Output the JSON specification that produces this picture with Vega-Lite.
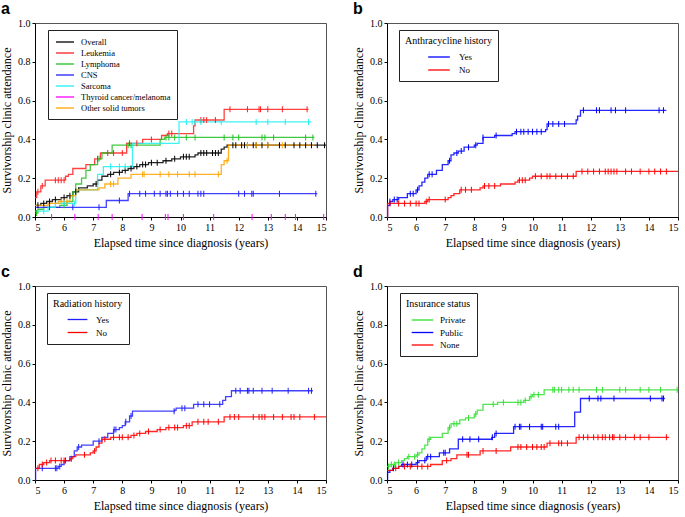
{
  "$schema": "https://vega.github.io/schema/vega-lite/v6.json",
  "background": "white",
  "padding": {"left": 0, "top": 0, "right": 2, "bottom": 2},
  "config": {
    "font": "Liberation Serif, Times New Roman, serif",
    "view": {"stroke": "#555555", "strokeWidth": 1},
    "axis": {"labelFont": "Liberation Serif, Times New Roman, serif", "labelFontSize": 10, "titleFont": "Liberation Serif, Times New Roman, serif", "titleFontSize": 12, "titleFontWeight": "normal", "grid": false, "domainColor": "#000", "tickColor": "#000", "labelColor": "#000", "titleColor": "#000", "tickSize": 3},
    "legend": {"orient": "none", "legendX": 13, "legendY": 7, "strokeColor": "#222", "strokeWidth": 1, "fillColor": "white", "padding": 6, "labelFont": "Liberation Serif, Times New Roman, serif", "labelFontSize": 9, "titleFont": "Liberation Serif, Times New Roman, serif", "titleFontSize": 10, "titleFontWeight": "normal", "titleColor": "#000", "labelColor": "#000", "titlePadding": 4, "symbolType": "M-1.8,0H1.8", "symbolStrokeWidth": 1.5, "symbolSize": 144, "labelLimit": 300, "rowPadding": 0.5},
    "title": {"anchor": "start", "frame": "group", "font": "Liberation Sans, Arial, sans-serif", "fontSize": 16, "fontWeight": "bold", "dx": -34, "offset": 1, "color": "#000"},
    "tick": {"orient": "vertical", "size": 6, "thickness": 1, "opacity": 1},
    "line": {"strokeWidth": 1.3, "opacity": 0.85}
  },
  "spacing": 14,
  "resolve": {"scale": {"color": "independent"}, "legend": {"color": "independent"}},
  "vconcat": [
    {
      "spacing": 22,
      "resolve": {"scale": {"color": "independent"}, "legend": {"color": "independent"}},
      "hconcat": [
        {
          "width": 291, "height": 194,
          "title": "a",
          "data": {"values": [
            {"s":"Overall","x":5,"y":0.06,"c":0},{"s":"Overall","x":5.2,"y":0.07,"c":0},{"s":"Overall","x":5.4,"y":0.08,"c":0},{"s":"Overall","x":5.6,"y":0.09,"c":0},{"s":"Overall","x":5.9,"y":0.1,"c":0},{"s":"Overall","x":6.1,"y":0.11,"c":0},{"s":"Overall","x":6.3,"y":0.13,"c":0},{"s":"Overall","x":6.5,"y":0.15,"c":0},{"s":"Overall","x":6.8,"y":0.16,"c":0},{"s":"Overall","x":7.0,"y":0.17,"c":0},{"s":"Overall","x":7.15,"y":0.19,"c":0},{"s":"Overall","x":7.3,"y":0.21,"c":0},{"s":"Overall","x":7.5,"y":0.22,"c":0},{"s":"Overall","x":7.7,"y":0.23,"c":0},{"s":"Overall","x":8.0,"y":0.24,"c":0},{"s":"Overall","x":8.2,"y":0.25,"c":0},{"s":"Overall","x":8.4,"y":0.26,"c":0},{"s":"Overall","x":8.6,"y":0.27,"c":0},{"s":"Overall","x":8.9,"y":0.28,"c":0},{"s":"Overall","x":9.4,"y":0.29,"c":0},{"s":"Overall","x":9.7,"y":0.3,"c":0},{"s":"Overall","x":10.0,"y":0.31,"c":0},{"s":"Overall","x":10.5,"y":0.32,"c":0},{"s":"Overall","x":10.6,"y":0.33,"c":0},{"s":"Overall","x":11.4,"y":0.35,"c":0},{"s":"Overall","x":11.5,"y":0.36,"c":0},{"s":"Overall","x":11.6,"y":0.37,"c":0},{"s":"Overall","x":15.0,"y":0.37,"c":0},
            {"s":"Overall","x":5.1,"y":0.06,"c":1},{"s":"Overall","x":5.3,"y":0.07,"c":1},{"s":"Overall","x":5.5,"y":0.08,"c":1},{"s":"Overall","x":5.7,"y":0.09,"c":1},{"s":"Overall","x":6.0,"y":0.1,"c":1},{"s":"Overall","x":6.2,"y":0.11,"c":1},{"s":"Overall","x":6.4,"y":0.13,"c":1},{"s":"Overall","x":7.1,"y":0.17,"c":1},{"s":"Overall","x":7.6,"y":0.22,"c":1},{"s":"Overall","x":7.9,"y":0.23,"c":1},{"s":"Overall","x":8.1,"y":0.24,"c":1},{"s":"Overall","x":8.3,"y":0.25,"c":1},{"s":"Overall","x":8.5,"y":0.26,"c":1},{"s":"Overall","x":8.7,"y":0.27,"c":1},{"s":"Overall","x":8.8,"y":0.27,"c":1},{"s":"Overall","x":9.0,"y":0.28,"c":1},{"s":"Overall","x":9.2,"y":0.28,"c":1},{"s":"Overall","x":9.5,"y":0.29,"c":1},{"s":"Overall","x":9.8,"y":0.3,"c":1},{"s":"Overall","x":10.1,"y":0.31,"c":1},{"s":"Overall","x":10.2,"y":0.31,"c":1},{"s":"Overall","x":10.3,"y":0.31,"c":1},{"s":"Overall","x":10.7,"y":0.33,"c":1},{"s":"Overall","x":10.8,"y":0.33,"c":1},{"s":"Overall","x":10.9,"y":0.33,"c":1},{"s":"Overall","x":11.1,"y":0.33,"c":1},{"s":"Overall","x":11.2,"y":0.33,"c":1},{"s":"Overall","x":11.3,"y":0.33,"c":1},{"s":"Overall","x":11.8,"y":0.37,"c":1},{"s":"Overall","x":11.9,"y":0.37,"c":1},{"s":"Overall","x":12.1,"y":0.37,"c":1},{"s":"Overall","x":12.2,"y":0.37,"c":1},{"s":"Overall","x":12.3,"y":0.37,"c":1},{"s":"Overall","x":12.5,"y":0.37,"c":1},{"s":"Overall","x":12.6,"y":0.37,"c":1},{"s":"Overall","x":12.8,"y":0.37,"c":1},{"s":"Overall","x":13.0,"y":0.37,"c":1},{"s":"Overall","x":13.4,"y":0.37,"c":1},{"s":"Overall","x":13.6,"y":0.37,"c":1},{"s":"Overall","x":13.9,"y":0.37,"c":1},{"s":"Overall","x":14.1,"y":0.37,"c":1},{"s":"Overall","x":14.3,"y":0.37,"c":1},{"s":"Overall","x":14.5,"y":0.37,"c":1},{"s":"Overall","x":14.7,"y":0.37,"c":1},{"s":"Overall","x":14.95,"y":0.37,"c":1},
            {"s":"Leukemia","x":5,"y":0.1,"c":0},{"s":"Leukemia","x":5.06,"y":0.13,"c":0},{"s":"Leukemia","x":5.2,"y":0.16,"c":0},{"s":"Leukemia","x":5.35,"y":0.19,"c":0},{"s":"Leukemia","x":6.05,"y":0.21,"c":0},{"s":"Leukemia","x":6.15,"y":0.22,"c":0},{"s":"Leukemia","x":6.3,"y":0.25,"c":0},{"s":"Leukemia","x":6.75,"y":0.27,"c":0},{"s":"Leukemia","x":7.05,"y":0.3,"c":0},{"s":"Leukemia","x":7.25,"y":0.33,"c":0},{"s":"Leukemia","x":8.15,"y":0.38,"c":0},{"s":"Leukemia","x":8.7,"y":0.4,"c":0},{"s":"Leukemia","x":9.35,"y":0.42,"c":0},{"s":"Leukemia","x":9.55,"y":0.43,"c":0},{"s":"Leukemia","x":10.45,"y":0.47,"c":0},{"s":"Leukemia","x":10.5,"y":0.5,"c":0},{"s":"Leukemia","x":11.5,"y":0.555,"c":0},{"s":"Leukemia","x":14.4,"y":0.555,"c":0},
            {"s":"Leukemia","x":5.1,"y":0.13,"c":1},{"s":"Leukemia","x":5.25,"y":0.16,"c":1},{"s":"Leukemia","x":5.7,"y":0.19,"c":1},{"s":"Leukemia","x":5.8,"y":0.19,"c":1},{"s":"Leukemia","x":5.9,"y":0.19,"c":1},{"s":"Leukemia","x":6.0,"y":0.19,"c":1},{"s":"Leukemia","x":7.15,"y":0.3,"c":1},{"s":"Leukemia","x":7.5,"y":0.33,"c":1},{"s":"Leukemia","x":7.7,"y":0.33,"c":1},{"s":"Leukemia","x":8.0,"y":0.33,"c":1},{"s":"Leukemia","x":8.25,"y":0.38,"c":1},{"s":"Leukemia","x":8.5,"y":0.38,"c":1},{"s":"Leukemia","x":9.0,"y":0.4,"c":1},{"s":"Leukemia","x":9.6,"y":0.43,"c":1},{"s":"Leukemia","x":9.7,"y":0.43,"c":1},{"s":"Leukemia","x":10.7,"y":0.5,"c":1},{"s":"Leukemia","x":10.8,"y":0.5,"c":1},{"s":"Leukemia","x":10.9,"y":0.5,"c":1},{"s":"Leukemia","x":11.2,"y":0.5,"c":1},{"s":"Leukemia","x":11.7,"y":0.555,"c":1},{"s":"Leukemia","x":12.3,"y":0.555,"c":1},{"s":"Leukemia","x":12.7,"y":0.555,"c":1},{"s":"Leukemia","x":12.75,"y":0.555,"c":1},{"s":"Leukemia","x":13.0,"y":0.555,"c":1},{"s":"Leukemia","x":13.5,"y":0.555,"c":1},{"s":"Leukemia","x":14.35,"y":0.555,"c":1},
            {"s":"Lymphoma","x":5,"y":0.02,"c":0},{"s":"Lymphoma","x":5.1,"y":0.04,"c":0},{"s":"Lymphoma","x":5.3,"y":0.05,"c":0},{"s":"Lymphoma","x":5.85,"y":0.06,"c":0},{"s":"Lymphoma","x":6.1,"y":0.08,"c":0},{"s":"Lymphoma","x":6.3,"y":0.13,"c":0},{"s":"Lymphoma","x":6.4,"y":0.17,"c":0},{"s":"Lymphoma","x":6.6,"y":0.2,"c":0},{"s":"Lymphoma","x":6.75,"y":0.24,"c":0},{"s":"Lymphoma","x":6.9,"y":0.27,"c":0},{"s":"Lymphoma","x":7.15,"y":0.3,"c":0},{"s":"Lymphoma","x":7.3,"y":0.33,"c":0},{"s":"Lymphoma","x":7.65,"y":0.37,"c":0},{"s":"Lymphoma","x":9.3,"y":0.4,"c":0},{"s":"Lymphoma","x":9.45,"y":0.41,"c":0},{"s":"Lymphoma","x":14.6,"y":0.41,"c":0},
            {"s":"Lymphoma","x":5.05,"y":0.02,"c":1},{"s":"Lymphoma","x":6.0,"y":0.06,"c":1},{"s":"Lymphoma","x":7.2,"y":0.3,"c":1},{"s":"Lymphoma","x":8.2,"y":0.37,"c":1},{"s":"Lymphoma","x":8.3,"y":0.37,"c":1},{"s":"Lymphoma","x":9.5,"y":0.41,"c":1},{"s":"Lymphoma","x":9.6,"y":0.41,"c":1},{"s":"Lymphoma","x":9.8,"y":0.41,"c":1},{"s":"Lymphoma","x":10.2,"y":0.41,"c":1},{"s":"Lymphoma","x":10.5,"y":0.41,"c":1},{"s":"Lymphoma","x":11.5,"y":0.41,"c":1},{"s":"Lymphoma","x":11.8,"y":0.41,"c":1},{"s":"Lymphoma","x":12.0,"y":0.41,"c":1},{"s":"Lymphoma","x":12.8,"y":0.41,"c":1},{"s":"Lymphoma","x":12.9,"y":0.41,"c":1},{"s":"Lymphoma","x":13.2,"y":0.41,"c":1},{"s":"Lymphoma","x":14.3,"y":0.41,"c":1},{"s":"Lymphoma","x":14.55,"y":0.41,"c":1},
            {"s":"CNS","x":5,"y":0.05,"c":0},{"s":"CNS","x":7.45,"y":0.085,"c":0},{"s":"CNS","x":8.2,"y":0.12,"c":0},{"s":"CNS","x":14.7,"y":0.12,"c":0},
            {"s":"CNS","x":5.5,"y":0.05,"c":1},{"s":"CNS","x":6.3,"y":0.05,"c":1},{"s":"CNS","x":7.2,"y":0.05,"c":1},{"s":"CNS","x":7.9,"y":0.085,"c":1},{"s":"CNS","x":8.25,"y":0.12,"c":1},{"s":"CNS","x":8.6,"y":0.12,"c":1},{"s":"CNS","x":8.8,"y":0.12,"c":1},{"s":"CNS","x":9.1,"y":0.12,"c":1},{"s":"CNS","x":9.3,"y":0.12,"c":1},{"s":"CNS","x":9.5,"y":0.12,"c":1},{"s":"CNS","x":9.55,"y":0.12,"c":1},{"s":"CNS","x":9.65,"y":0.12,"c":1},{"s":"CNS","x":9.9,"y":0.12,"c":1},{"s":"CNS","x":10.1,"y":0.12,"c":1},{"s":"CNS","x":10.3,"y":0.12,"c":1},{"s":"CNS","x":10.6,"y":0.12,"c":1},{"s":"CNS","x":10.7,"y":0.12,"c":1},{"s":"CNS","x":10.8,"y":0.12,"c":1},{"s":"CNS","x":12.0,"y":0.12,"c":1},{"s":"CNS","x":12.2,"y":0.12,"c":1},{"s":"CNS","x":12.45,"y":0.12,"c":1},{"s":"CNS","x":12.5,"y":0.12,"c":1},{"s":"CNS","x":13.4,"y":0.12,"c":1},{"s":"CNS","x":14.65,"y":0.12,"c":1},
            {"s":"Sarcoma","x":5,"y":0.03,"c":0},{"s":"Sarcoma","x":5.45,"y":0.05,"c":0},{"s":"Sarcoma","x":5.7,"y":0.07,"c":0},{"s":"Sarcoma","x":6.4,"y":0.14,"c":0},{"s":"Sarcoma","x":7.15,"y":0.22,"c":0},{"s":"Sarcoma","x":7.35,"y":0.26,"c":0},{"s":"Sarcoma","x":8.35,"y":0.38,"c":0},{"s":"Sarcoma","x":9.95,"y":0.49,"c":0},{"s":"Sarcoma","x":14.5,"y":0.49,"c":0},
            {"s":"Sarcoma","x":5.3,"y":0.03,"c":1},{"s":"Sarcoma","x":6.0,"y":0.07,"c":1},{"s":"Sarcoma","x":6.35,"y":0.07,"c":1},{"s":"Sarcoma","x":7.6,"y":0.26,"c":1},{"s":"Sarcoma","x":7.9,"y":0.26,"c":1},{"s":"Sarcoma","x":8.1,"y":0.26,"c":1},{"s":"Sarcoma","x":10.2,"y":0.49,"c":1},{"s":"Sarcoma","x":10.4,"y":0.49,"c":1},{"s":"Sarcoma","x":10.5,"y":0.49,"c":1},{"s":"Sarcoma","x":10.7,"y":0.49,"c":1},{"s":"Sarcoma","x":11.4,"y":0.49,"c":1},{"s":"Sarcoma","x":12.6,"y":0.49,"c":1},{"s":"Sarcoma","x":13.0,"y":0.49,"c":1},{"s":"Sarcoma","x":13.6,"y":0.49,"c":1},{"s":"Sarcoma","x":14.4,"y":0.49,"c":1},
            {"s":"Thyroid cancer/melanoma","x":5.57,"y":0,"c":1},{"s":"Thyroid cancer/melanoma","x":6.37,"y":0,"c":1},{"s":"Thyroid cancer/melanoma","x":7.17,"y":0,"c":1},{"s":"Thyroid cancer/melanoma","x":7.65,"y":0,"c":1},{"s":"Thyroid cancer/melanoma","x":8.68,"y":0,"c":1},{"s":"Thyroid cancer/melanoma","x":9.48,"y":0,"c":1},{"s":"Thyroid cancer/melanoma","x":9.57,"y":0,"c":1},{"s":"Thyroid cancer/melanoma","x":10.1,"y":0,"c":1},{"s":"Thyroid cancer/melanoma","x":11.14,"y":0,"c":1},{"s":"Thyroid cancer/melanoma","x":12.46,"y":0,"c":1},{"s":"Thyroid cancer/melanoma","x":13.12,"y":0,"c":1},{"s":"Thyroid cancer/melanoma","x":13.6,"y":0,"c":1},{"s":"Thyroid cancer/melanoma","x":13.95,"y":0,"c":1},{"s":"Thyroid cancer/melanoma","x":14.92,"y":0,"c":1},
            {"s":"Other solid tumors","x":5,"y":0.06,"c":0},{"s":"Other solid tumors","x":5.45,"y":0.07,"c":0},{"s":"Other solid tumors","x":5.8,"y":0.08,"c":0},{"s":"Other solid tumors","x":6.2,"y":0.11,"c":0},{"s":"Other solid tumors","x":6.4,"y":0.14,"c":0},{"s":"Other solid tumors","x":7.2,"y":0.15,"c":0},{"s":"Other solid tumors","x":7.4,"y":0.17,"c":0},{"s":"Other solid tumors","x":7.85,"y":0.2,"c":0},{"s":"Other solid tumors","x":8.3,"y":0.22,"c":0},{"s":"Other solid tumors","x":11.4,"y":0.27,"c":0},{"s":"Other solid tumors","x":11.5,"y":0.29,"c":0},{"s":"Other solid tumors","x":11.65,"y":0.37,"c":0},{"s":"Other solid tumors","x":14.6,"y":0.37,"c":0},
            {"s":"Other solid tumors","x":5.9,"y":0.08,"c":1},{"s":"Other solid tumors","x":6.1,"y":0.08,"c":1},{"s":"Other solid tumors","x":7.6,"y":0.17,"c":1},{"s":"Other solid tumors","x":7.7,"y":0.17,"c":1},{"s":"Other solid tumors","x":8.7,"y":0.22,"c":1},{"s":"Other solid tumors","x":8.75,"y":0.22,"c":1},{"s":"Other solid tumors","x":9.3,"y":0.22,"c":1},{"s":"Other solid tumors","x":9.6,"y":0.22,"c":1},{"s":"Other solid tumors","x":9.9,"y":0.22,"c":1},{"s":"Other solid tumors","x":10.3,"y":0.22,"c":1},{"s":"Other solid tumors","x":10.5,"y":0.22,"c":1},{"s":"Other solid tumors","x":11.3,"y":0.22,"c":1},{"s":"Other solid tumors","x":11.6,"y":0.29,"c":1},{"s":"Other solid tumors","x":12.3,"y":0.37,"c":1},{"s":"Other solid tumors","x":12.6,"y":0.37,"c":1},{"s":"Other solid tumors","x":13.0,"y":0.37,"c":1},{"s":"Other solid tumors","x":13.5,"y":0.37,"c":1}
          ]},
          "encoding": {
            "x": {"field": "x", "type": "quantitative", "scale": {"domain": [5, 15], "nice": false}, "axis": {"values": [5,6,7,8,9,10,11,12,13,14,15], "format": "d", "title": "Elapsed time since diagnosis (years)", "labelPadding": 2, "titlePadding": 5}},
            "y": {"field": "y", "type": "quantitative", "scale": {"domain": [0, 1], "nice": false}, "axis": {"values": [0,0.2,0.4,0.6,0.8,1], "format": ".1f", "title": "Survivorship clinic attendance", "labelPadding": 2, "titlePadding": 4}},
            "color": {"field": "s", "type": "nominal", "scale": {"domain": ["Overall","Leukemia","Lymphoma","CNS","Sarcoma","Thyroid cancer/melanoma","Other solid tumors"], "range": ["#000000","#ff2020","#20c020","#2020ff","#20f0f0","#ff00ff","#ffa500"]}, "legend": {"title": null, "symbolSize": 100, "symbolOffset": 5, "labelOffset": 10, "labelFontSize": 8.5, "rowPadding": 0, "legendX": 13}}
          },
          "layer": [
            {"transform": [{"filter": "datum.c == 0"}], "mark": {"type": "line", "interpolate": "step-after"}, "encoding": {"order": {"field": "x", "type": "quantitative"}}},
            {"transform": [{"filter": "datum.c == 1"}], "mark": {"type": "tick"}}
          ]
        },
        {
          "width": 291, "height": 194,
          "title": "b",
          "data": {"values": [
            {"s":"Yes","x":5,"y":0,"c":0},{"s":"Yes","x":5.02,"y":0.06,"c":0},{"s":"Yes","x":5.1,"y":0.08,"c":0},{"s":"Yes","x":5.2,"y":0.09,"c":0},{"s":"Yes","x":5.4,"y":0.1,"c":0},{"s":"Yes","x":5.7,"y":0.12,"c":0},{"s":"Yes","x":6.0,"y":0.14,"c":0},{"s":"Yes","x":6.1,"y":0.16,"c":0},{"s":"Yes","x":6.2,"y":0.18,"c":0},{"s":"Yes","x":6.3,"y":0.2,"c":0},{"s":"Yes","x":6.4,"y":0.22,"c":0},{"s":"Yes","x":6.7,"y":0.24,"c":0},{"s":"Yes","x":6.9,"y":0.27,"c":0},{"s":"Yes","x":7.1,"y":0.29,"c":0},{"s":"Yes","x":7.2,"y":0.32,"c":0},{"s":"Yes","x":7.3,"y":0.33,"c":0},{"s":"Yes","x":7.45,"y":0.34,"c":0},{"s":"Yes","x":7.65,"y":0.36,"c":0},{"s":"Yes","x":8.0,"y":0.37,"c":0},{"s":"Yes","x":8.1,"y":0.38,"c":0},{"s":"Yes","x":8.3,"y":0.41,"c":0},{"s":"Yes","x":8.7,"y":0.42,"c":0},{"s":"Yes","x":9.3,"y":0.43,"c":0},{"s":"Yes","x":9.4,"y":0.44,"c":0},{"s":"Yes","x":10.45,"y":0.45,"c":0},{"s":"Yes","x":10.5,"y":0.48,"c":0},{"s":"Yes","x":11.5,"y":0.5,"c":0},{"s":"Yes","x":11.55,"y":0.52,"c":0},{"s":"Yes","x":11.65,"y":0.55,"c":0},{"s":"Yes","x":14.6,"y":0.55,"c":0},
            {"s":"Yes","x":5.1,"y":0.08,"c":1},{"s":"Yes","x":5.25,"y":0.09,"c":1},{"s":"Yes","x":5.35,"y":0.09,"c":1},{"s":"Yes","x":5.8,"y":0.12,"c":1},{"s":"Yes","x":5.9,"y":0.12,"c":1},{"s":"Yes","x":6.05,"y":0.14,"c":1},{"s":"Yes","x":6.45,"y":0.22,"c":1},{"s":"Yes","x":6.55,"y":0.22,"c":1},{"s":"Yes","x":7.15,"y":0.29,"c":1},{"s":"Yes","x":7.4,"y":0.33,"c":1},{"s":"Yes","x":7.55,"y":0.34,"c":1},{"s":"Yes","x":7.8,"y":0.36,"c":1},{"s":"Yes","x":8.05,"y":0.37,"c":1},{"s":"Yes","x":8.3,"y":0.41,"c":1},{"s":"Yes","x":8.75,"y":0.42,"c":1},{"s":"Yes","x":9.45,"y":0.44,"c":1},{"s":"Yes","x":9.6,"y":0.44,"c":1},{"s":"Yes","x":9.7,"y":0.44,"c":1},{"s":"Yes","x":9.85,"y":0.44,"c":1},{"s":"Yes","x":10.0,"y":0.44,"c":1},{"s":"Yes","x":10.15,"y":0.44,"c":1},{"s":"Yes","x":10.3,"y":0.44,"c":1},{"s":"Yes","x":10.55,"y":0.48,"c":1},{"s":"Yes","x":10.7,"y":0.48,"c":1},{"s":"Yes","x":10.9,"y":0.48,"c":1},{"s":"Yes","x":11.1,"y":0.48,"c":1},{"s":"Yes","x":11.75,"y":0.55,"c":1},{"s":"Yes","x":12.2,"y":0.55,"c":1},{"s":"Yes","x":12.3,"y":0.55,"c":1},{"s":"Yes","x":12.7,"y":0.55,"c":1},{"s":"Yes","x":12.85,"y":0.55,"c":1},{"s":"Yes","x":13.2,"y":0.55,"c":1},{"s":"Yes","x":14.35,"y":0.55,"c":1},{"s":"Yes","x":14.5,"y":0.55,"c":1},
            {"s":"No","x":5,"y":0,"c":0},{"s":"No","x":5.02,"y":0.07,"c":0},{"s":"No","x":6.3,"y":0.08,"c":0},{"s":"No","x":6.4,"y":0.09,"c":0},{"s":"No","x":7.1,"y":0.1,"c":0},{"s":"No","x":7.2,"y":0.11,"c":0},{"s":"No","x":7.3,"y":0.12,"c":0},{"s":"No","x":7.5,"y":0.14,"c":0},{"s":"No","x":8.2,"y":0.15,"c":0},{"s":"No","x":8.3,"y":0.16,"c":0},{"s":"No","x":8.9,"y":0.17,"c":0},{"s":"No","x":9.4,"y":0.18,"c":0},{"s":"No","x":9.5,"y":0.19,"c":0},{"s":"No","x":9.9,"y":0.2,"c":0},{"s":"No","x":10.0,"y":0.21,"c":0},{"s":"No","x":11.5,"y":0.235,"c":0},{"s":"No","x":15.0,"y":0.235,"c":0},
            {"s":"No","x":5.1,"y":0.07,"c":1},{"s":"No","x":5.4,"y":0.07,"c":1},{"s":"No","x":5.6,"y":0.07,"c":1},{"s":"No","x":5.8,"y":0.07,"c":1},{"s":"No","x":6.0,"y":0.07,"c":1},{"s":"No","x":6.1,"y":0.07,"c":1},{"s":"No","x":6.35,"y":0.08,"c":1},{"s":"No","x":6.45,"y":0.09,"c":1},{"s":"No","x":7.0,"y":0.09,"c":1},{"s":"No","x":7.55,"y":0.14,"c":1},{"s":"No","x":7.7,"y":0.14,"c":1},{"s":"No","x":7.9,"y":0.14,"c":1},{"s":"No","x":8.35,"y":0.16,"c":1},{"s":"No","x":8.5,"y":0.16,"c":1},{"s":"No","x":8.7,"y":0.16,"c":1},{"s":"No","x":9.55,"y":0.19,"c":1},{"s":"No","x":9.65,"y":0.19,"c":1},{"s":"No","x":9.75,"y":0.19,"c":1},{"s":"No","x":10.1,"y":0.21,"c":1},{"s":"No","x":10.3,"y":0.21,"c":1},{"s":"No","x":10.5,"y":0.21,"c":1},{"s":"No","x":10.6,"y":0.21,"c":1},{"s":"No","x":10.8,"y":0.21,"c":1},{"s":"No","x":11.0,"y":0.21,"c":1},{"s":"No","x":11.2,"y":0.21,"c":1},{"s":"No","x":11.4,"y":0.21,"c":1},{"s":"No","x":11.7,"y":0.235,"c":1},{"s":"No","x":11.9,"y":0.235,"c":1},{"s":"No","x":12.1,"y":0.235,"c":1},{"s":"No","x":12.3,"y":0.235,"c":1},{"s":"No","x":12.5,"y":0.235,"c":1},{"s":"No","x":12.6,"y":0.235,"c":1},{"s":"No","x":12.7,"y":0.235,"c":1},{"s":"No","x":12.8,"y":0.235,"c":1},{"s":"No","x":12.9,"y":0.235,"c":1},{"s":"No","x":13.2,"y":0.235,"c":1},{"s":"No","x":13.4,"y":0.235,"c":1},{"s":"No","x":13.7,"y":0.235,"c":1},{"s":"No","x":14.0,"y":0.235,"c":1},{"s":"No","x":14.2,"y":0.235,"c":1},{"s":"No","x":14.4,"y":0.235,"c":1},{"s":"No","x":14.6,"y":0.235,"c":1}
          ]},
          "encoding": {
            "x": {"field": "x", "type": "quantitative", "scale": {"domain": [5, 15], "nice": false}, "axis": {"values": [5,6,7,8,9,10,11,12,13,14,15], "format": "d", "title": "Elapsed time since diagnosis (years)", "labelPadding": 2, "titlePadding": 5}},
            "y": {"field": "y", "type": "quantitative", "scale": {"domain": [0, 1], "nice": false}, "axis": {"values": [0,0.2,0.4,0.6,0.8,1], "format": ".1f", "title": "Survivorship clinic attendance", "labelPadding": 2, "titlePadding": 4}},
            "color": {"field": "s", "type": "nominal", "scale": {"domain": ["Yes","No"], "range": ["#0000ff","#ff0000"]}, "legend": {"title": "Anthracycline history", "symbolSize": 144, "symbolOffset": 27, "labelOffset": 13, "rowPadding": 1, "legendX": 12}}
          },
          "layer": [
            {"transform": [{"filter": "datum.c == 0"}], "mark": {"type": "line", "interpolate": "step-after"}, "encoding": {"order": {"field": "x", "type": "quantitative"}}},
            {"transform": [{"filter": "datum.c == 1"}], "mark": {"type": "tick"}}
          ]
        }
      ]
    },
    {
      "spacing": 22,
      "resolve": {"scale": {"color": "independent"}, "legend": {"color": "independent"}},
      "hconcat": [
        {
          "width": 291, "height": 194,
          "title": "c",
          "data": {"values": [
            {"s":"Yes","x":5,"y":0,"c":0},{"s":"Yes","x":5.02,"y":0.06,"c":0},{"s":"Yes","x":5.8,"y":0.07,"c":0},{"s":"Yes","x":5.9,"y":0.08,"c":0},{"s":"Yes","x":6.0,"y":0.1,"c":0},{"s":"Yes","x":6.2,"y":0.12,"c":0},{"s":"Yes","x":6.35,"y":0.15,"c":0},{"s":"Yes","x":6.45,"y":0.17,"c":0},{"s":"Yes","x":6.6,"y":0.18,"c":0},{"s":"Yes","x":7.0,"y":0.2,"c":0},{"s":"Yes","x":7.3,"y":0.22,"c":0},{"s":"Yes","x":7.5,"y":0.24,"c":0},{"s":"Yes","x":7.7,"y":0.26,"c":0},{"s":"Yes","x":7.9,"y":0.27,"c":0},{"s":"Yes","x":8.0,"y":0.28,"c":0},{"s":"Yes","x":8.1,"y":0.3,"c":0},{"s":"Yes","x":8.25,"y":0.33,"c":0},{"s":"Yes","x":8.35,"y":0.355,"c":0},{"s":"Yes","x":9.8,"y":0.36,"c":0},{"s":"Yes","x":9.85,"y":0.37,"c":0},{"s":"Yes","x":10.45,"y":0.39,"c":0},{"s":"Yes","x":11.45,"y":0.41,"c":0},{"s":"Yes","x":11.55,"y":0.43,"c":0},{"s":"Yes","x":11.75,"y":0.46,"c":0},{"s":"Yes","x":14.55,"y":0.46,"c":0},
            {"s":"Yes","x":5.25,"y":0.06,"c":1},{"s":"Yes","x":5.7,"y":0.06,"c":1},{"s":"Yes","x":5.75,"y":0.06,"c":1},{"s":"Yes","x":5.85,"y":0.07,"c":1},{"s":"Yes","x":6.05,"y":0.1,"c":1},{"s":"Yes","x":6.5,"y":0.17,"c":1},{"s":"Yes","x":7.2,"y":0.2,"c":1},{"s":"Yes","x":7.72,"y":0.26,"c":1},{"s":"Yes","x":7.78,"y":0.26,"c":1},{"s":"Yes","x":8.12,"y":0.3,"c":1},{"s":"Yes","x":8.3,"y":0.33,"c":1},{"s":"Yes","x":9.78,"y":0.355,"c":1},{"s":"Yes","x":10.05,"y":0.37,"c":1},{"s":"Yes","x":10.15,"y":0.37,"c":1},{"s":"Yes","x":10.6,"y":0.39,"c":1},{"s":"Yes","x":10.8,"y":0.39,"c":1},{"s":"Yes","x":11.0,"y":0.39,"c":1},{"s":"Yes","x":11.35,"y":0.39,"c":1},{"s":"Yes","x":11.9,"y":0.46,"c":1},{"s":"Yes","x":12.05,"y":0.46,"c":1},{"s":"Yes","x":12.3,"y":0.46,"c":1},{"s":"Yes","x":12.35,"y":0.46,"c":1},{"s":"Yes","x":12.5,"y":0.46,"c":1},{"s":"Yes","x":12.8,"y":0.46,"c":1},{"s":"Yes","x":13.15,"y":0.46,"c":1},{"s":"Yes","x":13.7,"y":0.46,"c":1},{"s":"Yes","x":14.4,"y":0.46,"c":1},{"s":"Yes","x":14.5,"y":0.46,"c":1},
            {"s":"No","x":5,"y":0.06,"c":0},{"s":"No","x":5.15,"y":0.08,"c":0},{"s":"No","x":5.3,"y":0.09,"c":0},{"s":"No","x":5.5,"y":0.1,"c":0},{"s":"No","x":6.2,"y":0.11,"c":0},{"s":"No","x":6.3,"y":0.12,"c":0},{"s":"No","x":6.4,"y":0.13,"c":0},{"s":"No","x":6.9,"y":0.14,"c":0},{"s":"No","x":7.0,"y":0.15,"c":0},{"s":"No","x":7.1,"y":0.17,"c":0},{"s":"No","x":7.2,"y":0.19,"c":0},{"s":"No","x":7.3,"y":0.21,"c":0},{"s":"No","x":7.6,"y":0.22,"c":0},{"s":"No","x":8.3,"y":0.23,"c":0},{"s":"No","x":8.5,"y":0.24,"c":0},{"s":"No","x":8.8,"y":0.25,"c":0},{"s":"No","x":9.2,"y":0.26,"c":0},{"s":"No","x":9.5,"y":0.27,"c":0},{"s":"No","x":10.1,"y":0.28,"c":0},{"s":"No","x":10.4,"y":0.3,"c":0},{"s":"No","x":11.5,"y":0.325,"c":0},{"s":"No","x":15.0,"y":0.325,"c":0},
            {"s":"No","x":5.1,"y":0.06,"c":1},{"s":"No","x":5.25,"y":0.08,"c":1},{"s":"No","x":5.4,"y":0.09,"c":1},{"s":"No","x":5.55,"y":0.1,"c":1},{"s":"No","x":5.7,"y":0.1,"c":1},{"s":"No","x":5.9,"y":0.1,"c":1},{"s":"No","x":6.0,"y":0.1,"c":1},{"s":"No","x":6.25,"y":0.11,"c":1},{"s":"No","x":6.7,"y":0.13,"c":1},{"s":"No","x":7.05,"y":0.15,"c":1},{"s":"No","x":7.4,"y":0.21,"c":1},{"s":"No","x":7.7,"y":0.22,"c":1},{"s":"No","x":7.9,"y":0.22,"c":1},{"s":"No","x":8.0,"y":0.22,"c":1},{"s":"No","x":8.2,"y":0.22,"c":1},{"s":"No","x":8.4,"y":0.23,"c":1},{"s":"No","x":8.6,"y":0.24,"c":1},{"s":"No","x":8.9,"y":0.25,"c":1},{"s":"No","x":9.3,"y":0.26,"c":1},{"s":"No","x":9.6,"y":0.27,"c":1},{"s":"No","x":9.8,"y":0.27,"c":1},{"s":"No","x":9.9,"y":0.27,"c":1},{"s":"No","x":10.2,"y":0.28,"c":1},{"s":"No","x":10.3,"y":0.28,"c":1},{"s":"No","x":10.6,"y":0.3,"c":1},{"s":"No","x":10.8,"y":0.3,"c":1},{"s":"No","x":10.95,"y":0.3,"c":1},{"s":"No","x":11.3,"y":0.3,"c":1},{"s":"No","x":11.7,"y":0.325,"c":1},{"s":"No","x":11.85,"y":0.325,"c":1},{"s":"No","x":12.0,"y":0.325,"c":1},{"s":"No","x":12.5,"y":0.325,"c":1},{"s":"No","x":12.7,"y":0.325,"c":1},{"s":"No","x":12.8,"y":0.325,"c":1},{"s":"No","x":12.9,"y":0.325,"c":1},{"s":"No","x":13.2,"y":0.325,"c":1},{"s":"No","x":13.5,"y":0.325,"c":1},{"s":"No","x":13.8,"y":0.325,"c":1},{"s":"No","x":13.9,"y":0.325,"c":1},{"s":"No","x":14.1,"y":0.325,"c":1},{"s":"No","x":14.6,"y":0.325,"c":1}
          ]},
          "encoding": {
            "x": {"field": "x", "type": "quantitative", "scale": {"domain": [5, 15], "nice": false}, "axis": {"values": [5,6,7,8,9,10,11,12,13,14,15], "format": "d", "title": "Elapsed time since diagnosis (years)", "labelPadding": 2, "titlePadding": 5}},
            "y": {"field": "y", "type": "quantitative", "scale": {"domain": [0, 1], "nice": false}, "axis": {"values": [0,0.2,0.4,0.6,0.8,1], "format": ".1f", "title": "Survivorship clinic attendance", "labelPadding": 2, "titlePadding": 4}},
            "color": {"field": "s", "type": "nominal", "scale": {"domain": ["Yes","No"], "range": ["#2020ff","#ff0000"]}, "legend": {"title": "Radiation history", "symbolSize": 121, "symbolOffset": 18, "labelOffset": 12, "rowPadding": 1, "legendX": 12}}
          },
          "layer": [
            {"transform": [{"filter": "datum.c == 0"}], "mark": {"type": "line", "interpolate": "step-after"}, "encoding": {"order": {"field": "x", "type": "quantitative"}}},
            {"transform": [{"filter": "datum.c == 1"}], "mark": {"type": "tick"}}
          ]
        },
        {
          "width": 291, "height": 194,
          "title": "d",
          "data": {"values": [
            {"s":"Private","x":5,"y":0.07,"c":0},{"s":"Private","x":5.1,"y":0.08,"c":0},{"s":"Private","x":5.3,"y":0.09,"c":0},{"s":"Private","x":5.5,"y":0.1,"c":0},{"s":"Private","x":5.6,"y":0.11,"c":0},{"s":"Private","x":5.7,"y":0.12,"c":0},{"s":"Private","x":6.0,"y":0.13,"c":0},{"s":"Private","x":6.1,"y":0.14,"c":0},{"s":"Private","x":6.2,"y":0.16,"c":0},{"s":"Private","x":6.3,"y":0.18,"c":0},{"s":"Private","x":6.4,"y":0.21,"c":0},{"s":"Private","x":6.5,"y":0.22,"c":0},{"s":"Private","x":6.9,"y":0.24,"c":0},{"s":"Private","x":7.1,"y":0.27,"c":0},{"s":"Private","x":7.2,"y":0.29,"c":0},{"s":"Private","x":7.5,"y":0.31,"c":0},{"s":"Private","x":7.7,"y":0.32,"c":0},{"s":"Private","x":8.0,"y":0.34,"c":0},{"s":"Private","x":8.1,"y":0.36,"c":0},{"s":"Private","x":8.3,"y":0.39,"c":0},{"s":"Private","x":8.8,"y":0.4,"c":0},{"s":"Private","x":9.7,"y":0.41,"c":0},{"s":"Private","x":9.9,"y":0.43,"c":0},{"s":"Private","x":10.0,"y":0.44,"c":0},{"s":"Private","x":10.4,"y":0.465,"c":0},{"s":"Private","x":15.0,"y":0.465,"c":0},
            {"s":"Private","x":5.05,"y":0.07,"c":1},{"s":"Private","x":5.15,"y":0.08,"c":1},{"s":"Private","x":5.25,"y":0.08,"c":1},{"s":"Private","x":5.4,"y":0.09,"c":1},{"s":"Private","x":5.75,"y":0.12,"c":1},{"s":"Private","x":5.95,"y":0.12,"c":1},{"s":"Private","x":6.05,"y":0.13,"c":1},{"s":"Private","x":6.45,"y":0.21,"c":1},{"s":"Private","x":7.15,"y":0.27,"c":1},{"s":"Private","x":7.3,"y":0.29,"c":1},{"s":"Private","x":7.4,"y":0.29,"c":1},{"s":"Private","x":7.8,"y":0.32,"c":1},{"s":"Private","x":8.05,"y":0.34,"c":1},{"s":"Private","x":8.65,"y":0.39,"c":1},{"s":"Private","x":9.0,"y":0.4,"c":1},{"s":"Private","x":9.5,"y":0.4,"c":1},{"s":"Private","x":9.6,"y":0.4,"c":1},{"s":"Private","x":9.75,"y":0.41,"c":1},{"s":"Private","x":9.95,"y":0.43,"c":1},{"s":"Private","x":10.05,"y":0.44,"c":1},{"s":"Private","x":10.2,"y":0.44,"c":1},{"s":"Private","x":10.7,"y":0.465,"c":1},{"s":"Private","x":10.75,"y":0.465,"c":1},{"s":"Private","x":10.9,"y":0.465,"c":1},{"s":"Private","x":11.0,"y":0.465,"c":1},{"s":"Private","x":11.25,"y":0.465,"c":1},{"s":"Private","x":11.4,"y":0.465,"c":1},{"s":"Private","x":11.6,"y":0.465,"c":1},{"s":"Private","x":12.2,"y":0.465,"c":1},{"s":"Private","x":12.4,"y":0.465,"c":1},{"s":"Private","x":13.0,"y":0.465,"c":1},{"s":"Private","x":13.2,"y":0.465,"c":1},{"s":"Private","x":13.7,"y":0.465,"c":1},{"s":"Private","x":14.0,"y":0.465,"c":1},{"s":"Private","x":14.4,"y":0.465,"c":1},{"s":"Private","x":14.97,"y":0.465,"c":1},
            {"s":"Public","x":5,"y":0,"c":0},{"s":"Public","x":5.02,"y":0.04,"c":0},{"s":"Public","x":5.1,"y":0.05,"c":0},{"s":"Public","x":5.2,"y":0.06,"c":0},{"s":"Public","x":5.4,"y":0.07,"c":0},{"s":"Public","x":5.5,"y":0.08,"c":0},{"s":"Public","x":6.0,"y":0.09,"c":0},{"s":"Public","x":6.1,"y":0.1,"c":0},{"s":"Public","x":6.35,"y":0.12,"c":0},{"s":"Public","x":6.8,"y":0.14,"c":0},{"s":"Public","x":7.15,"y":0.16,"c":0},{"s":"Public","x":7.45,"y":0.21,"c":0},{"s":"Public","x":8.6,"y":0.22,"c":0},{"s":"Public","x":8.7,"y":0.24,"c":0},{"s":"Public","x":9.35,"y":0.275,"c":0},{"s":"Public","x":11.45,"y":0.35,"c":0},{"s":"Public","x":11.65,"y":0.42,"c":0},{"s":"Public","x":14.55,"y":0.42,"c":0},
            {"s":"Public","x":5.22,"y":0.06,"c":1},{"s":"Public","x":5.55,"y":0.08,"c":1},{"s":"Public","x":5.7,"y":0.08,"c":1},{"s":"Public","x":5.85,"y":0.08,"c":1},{"s":"Public","x":6.05,"y":0.09,"c":1},{"s":"Public","x":6.3,"y":0.1,"c":1},{"s":"Public","x":6.4,"y":0.12,"c":1},{"s":"Public","x":6.5,"y":0.12,"c":1},{"s":"Public","x":6.95,"y":0.14,"c":1},{"s":"Public","x":7.0,"y":0.14,"c":1},{"s":"Public","x":7.6,"y":0.21,"c":1},{"s":"Public","x":7.85,"y":0.21,"c":1},{"s":"Public","x":8.15,"y":0.21,"c":1},{"s":"Public","x":8.62,"y":0.22,"c":1},{"s":"Public","x":8.75,"y":0.24,"c":1},{"s":"Public","x":9.4,"y":0.275,"c":1},{"s":"Public","x":9.55,"y":0.275,"c":1},{"s":"Public","x":9.6,"y":0.275,"c":1},{"s":"Public","x":9.9,"y":0.275,"c":1},{"s":"Public","x":10.3,"y":0.275,"c":1},{"s":"Public","x":10.35,"y":0.275,"c":1},{"s":"Public","x":10.8,"y":0.275,"c":1},{"s":"Public","x":10.9,"y":0.275,"c":1},{"s":"Public","x":11.95,"y":0.42,"c":1},{"s":"Public","x":12.25,"y":0.42,"c":1},{"s":"Public","x":12.35,"y":0.42,"c":1},{"s":"Public","x":12.8,"y":0.42,"c":1},{"s":"Public","x":14.05,"y":0.42,"c":1},{"s":"Public","x":14.45,"y":0.42,"c":1},{"s":"Public","x":14.5,"y":0.42,"c":1},
            {"s":"None","x":5,"y":0.05,"c":0},{"s":"None","x":5.2,"y":0.06,"c":0},{"s":"None","x":5.4,"y":0.07,"c":0},{"s":"None","x":6.5,"y":0.08,"c":0},{"s":"None","x":6.9,"y":0.1,"c":0},{"s":"None","x":7.2,"y":0.11,"c":0},{"s":"None","x":7.4,"y":0.13,"c":0},{"s":"None","x":8.2,"y":0.15,"c":0},{"s":"None","x":9.25,"y":0.17,"c":0},{"s":"None","x":10.5,"y":0.19,"c":0},{"s":"None","x":11.5,"y":0.22,"c":0},{"s":"None","x":14.7,"y":0.22,"c":0},
            {"s":"None","x":5.3,"y":0.06,"c":1},{"s":"None","x":5.6,"y":0.07,"c":1},{"s":"None","x":5.8,"y":0.07,"c":1},{"s":"None","x":6.05,"y":0.07,"c":1},{"s":"None","x":6.2,"y":0.07,"c":1},{"s":"None","x":6.4,"y":0.07,"c":1},{"s":"None","x":7.05,"y":0.1,"c":1},{"s":"None","x":7.75,"y":0.13,"c":1},{"s":"None","x":7.8,"y":0.13,"c":1},{"s":"None","x":8.3,"y":0.15,"c":1},{"s":"None","x":8.75,"y":0.15,"c":1},{"s":"None","x":9.5,"y":0.17,"c":1},{"s":"None","x":9.6,"y":0.17,"c":1},{"s":"None","x":9.8,"y":0.17,"c":1},{"s":"None","x":10.0,"y":0.17,"c":1},{"s":"None","x":10.15,"y":0.17,"c":1},{"s":"None","x":10.3,"y":0.17,"c":1},{"s":"None","x":10.4,"y":0.17,"c":1},{"s":"None","x":10.6,"y":0.19,"c":1},{"s":"None","x":10.9,"y":0.19,"c":1},{"s":"None","x":11.0,"y":0.19,"c":1},{"s":"None","x":11.2,"y":0.19,"c":1},{"s":"None","x":11.6,"y":0.22,"c":1},{"s":"None","x":11.75,"y":0.22,"c":1},{"s":"None","x":11.9,"y":0.22,"c":1},{"s":"None","x":12.1,"y":0.22,"c":1},{"s":"None","x":12.25,"y":0.22,"c":1},{"s":"None","x":12.4,"y":0.22,"c":1},{"s":"None","x":12.5,"y":0.22,"c":1},{"s":"None","x":12.65,"y":0.22,"c":1},{"s":"None","x":12.75,"y":0.22,"c":1},{"s":"None","x":12.8,"y":0.22,"c":1},{"s":"None","x":13.0,"y":0.22,"c":1},{"s":"None","x":13.2,"y":0.22,"c":1},{"s":"None","x":13.5,"y":0.22,"c":1},{"s":"None","x":13.7,"y":0.22,"c":1},{"s":"None","x":14.0,"y":0.22,"c":1},{"s":"None","x":14.6,"y":0.22,"c":1}
          ]},
          "encoding": {
            "x": {"field": "x", "type": "quantitative", "scale": {"domain": [5, 15], "nice": false}, "axis": {"values": [5,6,7,8,9,10,11,12,13,14,15], "format": "d", "title": "Elapsed time since diagnosis (years)", "labelPadding": 2, "titlePadding": 5}},
            "y": {"field": "y", "type": "quantitative", "scale": {"domain": [0, 1], "nice": false}, "axis": {"values": [0,0.2,0.4,0.6,0.8,1], "format": ".1f", "title": "Survivorship clinic attendance", "labelPadding": 2, "titlePadding": 4}},
            "color": {"field": "s", "type": "nominal", "scale": {"domain": ["Private","Public","None"], "range": ["#30e030","#0000ff","#ff0000"]}, "legend": {"title": "Insurance status", "symbolSize": 144, "symbolOffset": 9.5, "labelOffset": 10.5, "rowPadding": 0.5, "legendX": 13}}
          },
          "layer": [
            {"transform": [{"filter": "datum.c == 0"}], "mark": {"type": "line", "interpolate": "step-after"}, "encoding": {"order": {"field": "x", "type": "quantitative"}}},
            {"transform": [{"filter": "datum.c == 1"}], "mark": {"type": "tick"}}
          ]
        }
      ]
    }
  ]
}
